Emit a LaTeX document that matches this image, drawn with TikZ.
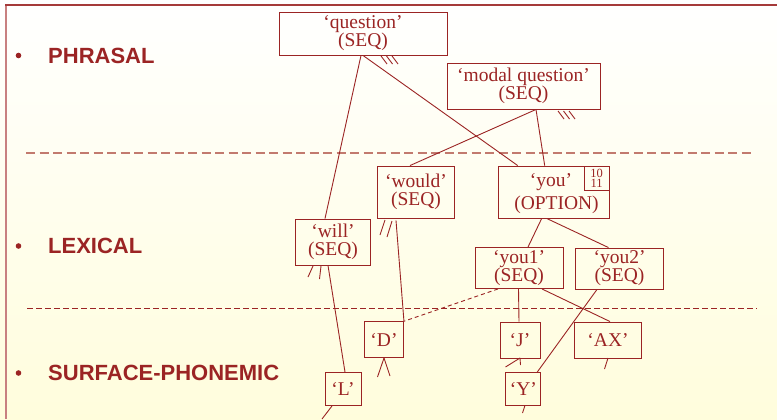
\documentclass[tikz,border=0pt]{standalone}
\usepackage{fontspec}
\setmainfont{Liberation Serif}
\newfontfamily\hdfont{Liberation Sans}
\usetikzlibrary{calc}
\definecolor{dred}{HTML}{9B2424}
\definecolor{lred}{HTML}{C27A6E}
\definecolor{fred}{HTML}{C88080}
\definecolor{bgy}{HTML}{FFFDDC}
\tikzset{
 box/.style={draw=dred, line width=0.9bp, inner sep=0pt, text=dred, align=center, font=\fontsize{19.5bp}{18bp}\selectfont},
 boxtext/.style={text=dred, inner sep=0pt, font=\fontsize{19.5bp}{18bp}\selectfont},
 numtext/.style={text=dred, inner sep=0pt, font=\fontsize{12.5bp}{11bp}\selectfont},
 link/.style={draw=dred, line width=0.9bp},
 hatch/.style={draw=dred, line width=0.9bp},
 hdr/.style={anchor=west, inner sep=0pt, text=dred, font=\hdfont\bfseries\fontsize{22bp}{24bp}\selectfont},
 bul/.style={fill=dred},
}
\begin{document}
\begin{tikzpicture}[x=1bp,y=-1bp]
\useasboundingbox (0,0) rectangle (777,419);
\shade[top color=white, bottom color=bgy] (0,0) rectangle (777,419);
% frame
\draw[fred, line width=1.5bp] (6,5) -- (6,419);
\draw[dred!90!white, line width=1.6bp] (5,5) -- (777,5);
% level separators
\draw[lred, line width=1.4bp, dash pattern=on 9bp off 4.5bp] (26,153) -- (755,153);
\draw[dred, line width=0.9bp, dash pattern=on 6bp off 3bp] (27,308) -- (757,308);
% level labels
\fill[bul] (18.5,55.5) circle[radius=2.8bp];
\node[hdr] (ph) at (48,55.5) {PHRASAL};
\fill[bul] (18.5,246) circle[radius=2.8bp];
\node[hdr] (lx) at (48,246) {LEXICAL};
\fill[bul] (18.5,373) circle[radius=2.8bp];
\node[hdr] (sp) at (48,373) {SURFACE-PHONEMIC};
% boxes
\node[box, minimum width=168bp, minimum height=43bp] (q) at (363,33.5) {‘question’\\(SEQ)};
\node[box, minimum width=153bp, minimum height=46bp] (mq) at (523.5,86) {‘modal question’\\(SEQ)};
\node[box, minimum width=77bp, minimum height=52bp] (wd) at (416,192) {‘would’\\(SEQ)};
\node[box, minimum width=111bp, minimum height=52bp] (you) at (553.7,192) {};
\node[boxtext] (yt1) at (551,182) {‘you’};
\node[boxtext] (yt2) at (556.5,205) {(OPTION)};
\node[draw=dred, line width=0.9bp, inner sep=0pt, anchor=north east, minimum width=25bp, minimum height=24.5bp] (yn) at (you.north east) {};
\node[numtext] (n10) at ($(yn.center)+(0,-5.2)$) {10};
\node[numtext] (n11) at ($(yn.center)+(0,5.2)$) {11};
\node[box, minimum width=75bp, minimum height=46bp] (wl) at (333,242) {‘will’\\(SEQ)};
\node[box, minimum width=88bp, minimum height=41bp] (y1) at (519,268) {‘you1’\\(SEQ)};
\node[box, minimum width=88bp, minimum height=41bp] (y2) at (619.5,268.5) {‘you2’\\(SEQ)};
\node[box, minimum width=39bp, minimum height=36bp] (D) at (384,339.7) {‘D’};
\node[box, minimum width=40bp, minimum height=36bp] (J) at (520,340) {‘J’};
\node[box, minimum width=67bp, minimum height=36bp] (AX) at (608,340) {‘AX’};
\node[box, minimum width=36bp, minimum height=33bp] (L) at (343,389) {‘L’};
\node[box, minimum width=35bp, minimum height=33bp] (Y) at (523.3,389) {‘Y’};
% connectors
\draw[link] ($(q.south)+(-2,0)$) -- ($(wl.north)+(-8,0)$);
\draw[link] ($(q.south)+(0,0)$) -- ($(you.north)+(-36,0)$);
\draw[link] ($(mq.south)+(12.5,0)$) -- ($(wd.north)+(-6,0)$);
\draw[link] ($(mq.south)+(12.5,0)$) -- ($(you.north)+(-9,0)$);
\draw[link] ($(wd.south)+(-20,2)$) -- (D.north east);
\draw[link] ($(wl.south)+(-5,0)$) -- ($(L.north)+(2,0)$);
\draw[link] ($(you.south)+(-12,0)$) -- ($(y1.north)+(9,0)$);
\draw[link] ($(you.south)+(-7,0)$) -- ($(y2.north)+(-11,0)$);
\draw[link, dash pattern=on 4bp off 3bp] ($(y1.south)+(-21,0)$) -- (D.north east);
\draw[link] ($(y1.south)+(-0.5,0)$) -- ($(J.north)+(-1,0)$);
\draw[link] ($(y1.south)+(23,0)$) -- ($(AX.north)+(2,0)$);
\draw[link] ($(y2.south)+(-22.5,0)$) -- ($(Y.north east)+(-4,0)$);
% stubs and hatches
\coordinate (qh1) at (381,56); \coordinate (qh2) at (386.5,56); \coordinate (qh3) at (392,56);
\draw[hatch] (qh1) -- ++(6,8); \draw[hatch] (qh2) -- ++(6,8); \draw[hatch] (qh3) -- ++(6,8);
\coordinate (mh1) at (558,111); \coordinate (mh2) at (563.5,111); \coordinate (mh3) at (569,111);
\draw[hatch] (mh1) -- ++(6,8); \draw[hatch] (mh2) -- ++(6,8); \draw[hatch] (mh3) -- ++(6,8);
\coordinate (wh1) at (385,220); \coordinate (wh2) at (392,221);
\draw[hatch] (wh1) -- ++(-5,15); \draw[hatch] (wh2) -- ++(-5,16);
\coordinate (lh1) at (313,266); \coordinate (lh2) at (321,266);
\draw[hatch] (lh1) -- ++(-5,11); \draw[hatch] (lh2) -- ++(-1.5,13);
\coordinate (dh) at (384,358);
\draw[hatch] (dh) -- ++(-6.5,19); \draw[hatch] (dh) -- ++(6,18);
\coordinate (jh) at (520,358);
\draw[hatch] (jh) -- ++(-14.5,9); \draw[hatch] (jh) -- ++(0.5,7);
\coordinate (axh) at (608,358);
\draw[hatch] (axh) -- ++(-3.5,11);
\coordinate (lb) at (322,419);
\draw[link] ($(L.south)+(-11,0)$) -- (lb);
\coordinate (yb) at (522.5,413);
\draw[link] ($(Y.south)+(1.5,0)$) -- (yb);
\end{tikzpicture}
\end{document}
